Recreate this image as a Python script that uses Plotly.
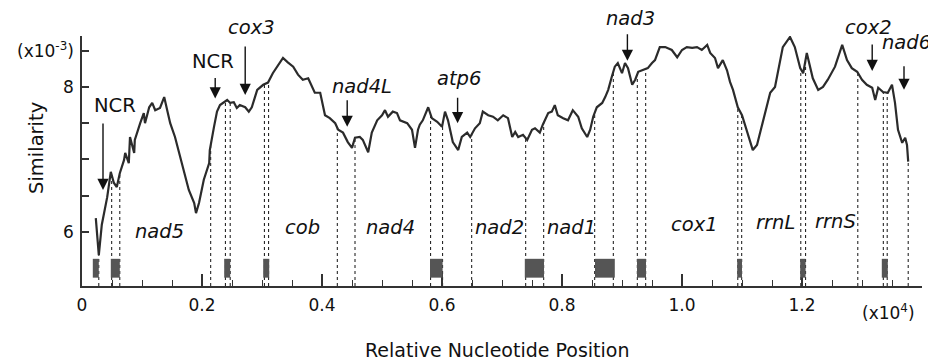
import numpy as np
import plotly.graph_objects as go

# Relative nucleotide position (x10^4) and similarity (x10^-3)
position = [0.023, 0.028, 0.033, 0.037, 0.042, 0.048, 0.053, 0.058, 0.063, 0.070, 0.072, 0.078, 0.080, 0.087, 0.088,
            0.097, 0.103, 0.105, 0.112, 0.117, 0.122, 0.130, 0.137, 0.142, 0.147, 0.155, 0.162, 0.170, 0.178, 0.187,
            0.190, 0.195, 0.203, 0.212, 0.213, 0.220, 0.225, 0.230, 0.237, 0.242, 0.247, 0.253, 0.258, 0.263, 0.272,
            0.278, 0.283, 0.292, 0.302, 0.310, 0.318, 0.327, 0.335, 0.343, 0.352, 0.360, 0.368, 0.377, 0.383, 0.388,
            0.397, 0.405, 0.413, 0.422, 0.427, 0.435, 0.443, 0.450, 0.455, 0.463, 0.468, 0.477, 0.483, 0.492, 0.500,
            0.505, 0.510, 0.518, 0.525, 0.530, 0.542, 0.550, 0.555, 0.560, 0.563, 0.568, 0.577, 0.583, 0.592, 0.600,
            0.605, 0.610, 0.618, 0.627, 0.633, 0.642, 0.647, 0.655, 0.663, 0.668, 0.677, 0.685, 0.693, 0.702, 0.710,
            0.717, 0.722, 0.727, 0.735, 0.742, 0.750, 0.755, 0.763, 0.768, 0.777, 0.783, 0.788, 0.793, 0.802, 0.810,
            0.818, 0.827, 0.833, 0.842, 0.847, 0.852, 0.858, 0.867, 0.872, 0.877, 0.883, 0.888, 0.893, 0.900, 0.905,
            0.910, 0.917, 0.922, 0.927, 0.935, 0.943, 0.950, 0.955, 0.963, 0.972, 0.983, 0.992, 1.000, 1.008, 1.017,
            1.025, 1.033, 1.042, 1.047, 1.055, 1.060, 1.068, 1.075, 1.080, 1.085, 1.093, 1.100, 1.105, 1.110, 1.118,
            1.125, 1.130, 1.138, 1.147, 1.155, 1.160, 1.168, 1.180, 1.188, 1.197, 1.202, 1.208, 1.213, 1.218, 1.227,
            1.235, 1.243, 1.255, 1.267, 1.275, 1.283, 1.292, 1.300, 1.308, 1.317, 1.322, 1.327, 1.335, 1.343, 1.350,
            1.355, 1.360, 1.367, 1.372, 1.375, 1.377]
similarity = [6.19, 5.68, 6.10, 6.26, 6.48, 6.83, 6.68, 6.62, 6.81, 6.99, 7.09, 6.95, 7.31, 7.09, 7.27,
              7.50, 7.64, 7.50, 7.72, 7.78, 7.68, 7.71, 7.86, 7.68, 7.50, 7.31, 7.09, 6.81, 6.58, 6.40,
              6.26, 6.40, 6.72, 6.95, 7.13, 7.45, 7.66, 7.75, 7.79, 7.82, 7.78, 7.79, 7.71, 7.75, 7.72,
              7.66, 7.72, 7.96, 8.03, 8.06, 8.19, 8.30, 8.40, 8.34, 8.28, 8.17, 8.10, 8.12, 8.00, 7.92,
              7.92, 7.61, 7.57, 7.50, 7.41, 7.37, 7.24, 7.16, 7.30, 7.31, 7.27, 7.10, 7.37, 7.54, 7.61,
              7.68, 7.59, 7.66, 7.64, 7.54, 7.50, 7.41, 7.16, 7.41, 7.48, 7.54, 7.72, 7.57, 7.52, 7.45,
              7.66, 7.54, 7.24, 7.13, 7.31, 7.37, 7.31, 7.43, 7.50, 7.66, 7.61, 7.59, 7.54, 7.61, 7.57,
              7.31, 7.38, 7.31, 7.34, 7.27, 7.41, 7.43, 7.37, 7.48, 7.64, 7.66, 7.75, 7.61, 7.57, 7.54,
              7.68, 7.59, 7.43, 7.31, 7.41, 7.59, 7.72, 7.78, 7.86, 7.96, 8.14, 8.28, 8.33, 8.19, 8.33,
              8.26, 8.03, 8.10, 8.21, 8.23, 8.26, 8.33, 8.37, 8.55, 8.55, 8.51, 8.41, 8.51, 8.55, 8.54,
              8.55, 8.51, 8.58, 8.47, 8.40, 8.26, 8.37, 8.23, 8.07, 7.96, 7.72, 7.61, 7.48, 7.37, 7.13,
              7.20, 7.37, 7.64, 7.92, 8.00, 8.23, 8.55, 8.69, 8.55, 8.26, 8.19, 8.47, 8.28, 8.12, 7.96,
              8.00, 8.10, 8.28, 8.58, 8.37, 8.26, 8.21, 8.10, 8.03, 7.99, 7.82, 7.99, 7.93, 7.92, 8.03,
              7.78, 7.41, 7.23, 7.30, 7.20, 6.97]

# gene boundaries (dotted lines)
boundary_pos = [0.028, 0.0495, 0.063, 0.2145, 0.239, 0.247, 0.304, 0.311, 0.4255, 0.455, 0.581, 0.601,
                0.6495, 0.7395, 0.7695, 0.8545, 0.8855, 0.9255, 0.9395, 1.093, 1.0995, 1.198, 1.206,
                1.293, 1.3355, 1.342, 1.377]

# tRNA blocks
box_start = [0.018, 0.048, 0.237, 0.302, 0.580, 0.738, 0.855, 0.925, 1.092, 1.197, 1.333]
box_end = [0.028, 0.063, 0.247, 0.312, 0.601, 0.770, 0.888, 0.940, 1.100, 1.206, 1.343]

# gene labels inside the plot
gene_names = ["nad5", "cob", "nad4", "nad2", "nad1", "cox1", "rrnL", "rrnS"]
gene_x = [0.129, 0.368, 0.514, 0.696, 0.815, 1.021, 1.156, 1.256]
gene_y = [6.01, 6.06, 6.06, 6.06, 6.06, 6.10, 6.13, 6.14]

# arrow-labelled features
arrow_names = ["NCR", "NCR", "cox3", "nad4L", "atp6", "nad3", "cox2", "nad6"]
arrow_italic = [False, False, True, True, True, True, True, True]
arrow_x = [0.035, 0.222, 0.272, 0.442, 0.626, 0.909, 1.317, 1.370]
arrow_tip = [6.58, 7.84, 7.89, 7.45, 7.50, 8.36, 8.22, 7.96]
arrow_len = [68, 22, 50, 28, 27, 28, 28, 25]
label_x = [0.0555, 0.2175, 0.2817, 0.466, 0.629, 0.914, 1.3105, 1.374]
label_y = [7.745, 8.345, 8.814, 8.004, 8.114, 8.938, 8.814, 8.61]

Y_MIN, Y_MAX = 5.255, 8.703
X_MAX = 1.4

# page body has an 8px margin; compensate so the plot lands where intended
OFF = 8
W, H = 936 - OFF, 361 - OFF
ML, MR, MT, MB = 82 - OFF, 14, 36 - OFF, 75
PW, PH = W - ML - MR, H - MT - MB


def px2paper(px, py):
    return (px - OFF - ML) / PW, 1 - (py - OFF - MT) / PH


def data2paper(x, y):
    return x / X_MAX, (y - Y_MIN) / (Y_MAX - Y_MIN)


fig = go.Figure()

# dotted boundary lines from the curve down to the axis
tops = np.interp(boundary_pos, position, similarity)
dx, dy = [], []
for b, t in zip(boundary_pos, tops):
    dx += [b, b, None]
    dy += [Y_MIN, t, None]
fig.add_trace(go.Scatter(x=dx, y=dy, mode="lines",
                         line=dict(color="#111111", width=1, dash="dot"),
                         hoverinfo="skip", showlegend=False))

# curve
fig.add_trace(go.Scatter(x=position, y=similarity, mode="lines",
                         line=dict(color="#2b2b2b", width=2.2),
                         showlegend=False))

# boxes
for s, e in zip(box_start, box_end):
    fig.add_shape(type="rect", xref="x", yref="y", x0=s, x1=e, y0=5.37, y1=5.63,
                  fillcolor="#555555", line=dict(width=0), layer="above")

FONT = "DejaVu Sans"
LAB = 19.5
ann = []
for n, gx, gy in zip(gene_names, gene_x, gene_y):
    ann.append(dict(x=gx, y=gy, xref="x", yref="y", text="<i>%s</i>" % n, showarrow=False,
                    font=dict(size=LAB, color="#111111", family=FONT),
                    xanchor="center", yanchor="middle"))
for n, it, ax_, tip, ln, lx, ly in zip(arrow_names, arrow_italic, arrow_x, arrow_tip, arrow_len, label_x, label_y):
    ann.append(dict(x=ax_, y=tip, xref="x", yref="y", text="", showarrow=True,
                    ax=0, ay=-ln, arrowhead=2, arrowsize=1.6, arrowwidth=1.4, arrowcolor="#111111"))
    qx, qy = data2paper(lx, ly)
    ann.append(dict(x=qx, y=qy, xref="paper", yref="paper", text=("<i>%s</i>" % n) if it else n,
                    showarrow=False, font=dict(size=LAB, color="#111111", family=FONT),
                    xanchor="center", yanchor="middle"))

# axis unit annotation and titles (pixel positions in the window)
for txt, px, py, sz, ang in [("(x10<sup>4</sup>)", 888, 312, 17, 0),
                             ("Relative Nucleotide Position", 497, 350, 19, 0),
                             ("Similarity", 36, 148, 19.5, -90)]:
    qx, qy = px2paper(px, py)
    ann.append(dict(x=qx, y=qy, xref="paper", yref="paper", text=txt, textangle=ang, showarrow=False,
                    font=dict(size=sz, color="#111111", family=FONT), xanchor="center", yanchor="middle"))

fig.update_layout(
    width=W, height=H,
    margin=dict(l=ML, r=MR, t=MT, b=MB, pad=0, autoexpand=False),
    paper_bgcolor="white", plot_bgcolor="white",
    font=dict(family=FONT, size=17, color="#111111"),
    annotations=ann,
    xaxis=dict(range=[0, X_MAX], showgrid=False, zeroline=False, automargin=False,
               showline=True, linecolor="#333333", linewidth=1.5,
               tickmode="array", tickvals=[0, 0.2, 0.4, 0.6, 0.8, 1.0, 1.2],
               ticktext=["0", "0.2", "0.4", "0.6", "0.8", "1.0", "1.2"],
               ticks="inside", ticklen=12, tickwidth=1.5, tickcolor="#333333",
               minor=dict(dtick=0.05, tick0=0, ticks="inside", ticklen=6, tickwidth=1.3, tickcolor="#333333"),
               tickfont=dict(size=17), ticklabelstandoff=3),
    yaxis=dict(range=[Y_MIN, Y_MAX], showgrid=False, zeroline=False, automargin=False,
               showline=True, linecolor="#333333", linewidth=1.5,
               tickmode="array", tickvals=[6, 6.5, 7, 7.5, 8, 8.5],
               ticktext=["6", "", "", "", "8", "(x10<sup>-3</sup>)"],
               ticks="inside", ticklen=7, tickwidth=1.5, tickcolor="#333333",
               tickfont=dict(size=17), ticklabelstandoff=3),
)

fig.write_html("out.html")
